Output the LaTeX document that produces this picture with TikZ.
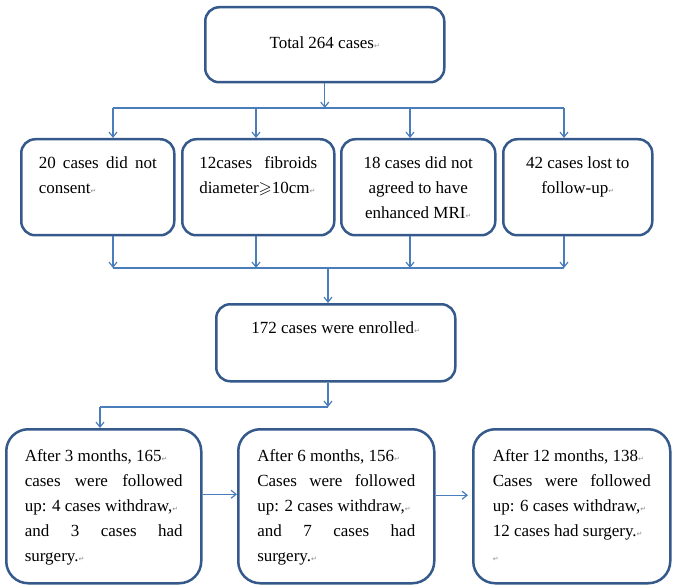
\documentclass[tikz,border=0pt]{standalone}
\usepackage{amssymb}
\usepackage{xcolor}
\usepackage{fontspec}
\setmainfont{Liberation Serif}
\newfontfamily\symfont{DejaVu Sans}
\usetikzlibrary{arrows.meta}

\definecolor{boxblue}{HTML}{34598A}
\definecolor{linkblue}{HTML}{4A7EBB}
\definecolor{markgray}{HTML}{8C8C8C}

% small paragraph mark and a top aligned text block
\newcommand{\pmark}{{\symfont\fontsize{7}{7}\selectfont\textcolor{markgray}{↵}}}
\newcommand{\boxtext}[3]{\parbox[c][#1][t]{#2}{#3}}

\tikzset{
  stage/.style={draw=boxblue, line width=2.5pt, rounded corners=14pt, inner sep=0pt,
    anchor=north west, font=\fontsize{17}{25}\selectfont},
  link/.style={draw=linkblue, line width=1.2pt, -{Straight Barb[length=5pt,width=8pt]}},
  busline/.style={draw=linkblue, line width=1.2pt}
}

\begin{document}
\begin{tikzpicture}[x=1pt,y=-1pt]
        \useasboundingbox (0,0) rectangle (675,588);

        % top box
        \node[stage, minimum width=239pt] (top) at (204,6)
          {\boxtext{75pt}{200pt}{\centering\rule{0pt}{41pt}Total 264 cases\pmark\par}};

        % excluded cases
        \node[stage, minimum width=153pt] (b1) at (20,138)
          {\boxtext{96pt}{118pt}{\rule{0pt}{29pt}20 cases did not\linebreak consent\pmark}};
        \node[stage, minimum width=152pt] (b2) at (181,138)
          {\boxtext{96pt}{118pt}{\rule{0pt}{29pt}12cases fibroids\linebreak diameter$\geqslant$10cm\pmark}};
        \node[stage, minimum width=154pt] (b3) at (340,138)
          {\boxtext{96pt}{118pt}{\centering\rule{0pt}{29pt}18 cases did not\\agreed to have\\enhanced MRI\pmark\par}};
        \node[stage, minimum width=149pt] (b4) at (502,138)
          {\boxtext{96pt}{118pt}{\centering\rule{0pt}{29pt}42 cases lost to\\follow-up\pmark\par}};

        % enrolled
        \node[stage, minimum width=239pt] (enr) at (215,303)
          {\boxtext{77pt}{200pt}{\centering\rule{0pt}{29pt}172 cases were enrolled\pmark\par}};

        % follow-up boxes
        \node[stage, rounded corners=22pt, minimum width=195pt] (c1) at (5,428)
          {\boxtext{154pt}{158pt}{\rule{0pt}{32pt}After 3 months, 165\pmark\par
          cases were followed\linebreak up: 4 cases withdraw,\pmark\par
          and 3 cases had\linebreak surgery.\pmark}};
        \node[stage, rounded corners=22pt, minimum width=196pt] (c2) at (237,428)
          {\boxtext{154pt}{158pt}{\rule{0pt}{32pt}After 6 months, 156\pmark\par
          Cases were followed\linebreak up: 2 cases withdraw,\pmark\par
          and 7 cases had\linebreak surgery.\pmark}};
        \node[stage, rounded corners=22pt, minimum width=197pt] (c3) at (472,428)
          {\boxtext{154pt}{158pt}{\rule{0pt}{32pt}After 12 months, 138\pmark\par
          Cases were followed\linebreak up: 6 cases withdraw,\pmark\par
          12 cases had surgery.\pmark\par\pmark}};

        % draw the split and join lines
        \foreach \b/\x in {b1/113,b2/256,b3/410,b4/564}{
          \coordinate (in\b) at (\x,108);
          \coordinate (out\b) at (\x,268);
          \draw[link] (in\b) -- (in\b |- \b.north);
          \draw[link] (out\b |- \b.south) -- (out\b);
        }
        \draw[busline] (inb1) -- (inb4);
        \draw[busline] (outb1) -- (outb4);
        \draw[link] (top.south) -- (top.south |- inb1);

        \coordinate (join) at (328,268);
        \draw[link] (join) -- (join |- enr.north);

        % down to the follow-up row
        \coordinate (turn) at (328,407);
        \coordinate (turnL) at (100,407);
        \draw[link] (turn |- enr.south) -- (turn);
        \draw[busline] (turn) -- (turnL);
        \draw[link] (turnL) -- (turnL |- c1.north);

        \draw[link] ([yshift=12pt]c1.east) -- ([yshift=12pt]c2.west);
        \draw[link, shorten >=4pt] ([yshift=11pt]c2.east) -- ([yshift=11pt]c3.west);
\end{tikzpicture}
\end{document}
